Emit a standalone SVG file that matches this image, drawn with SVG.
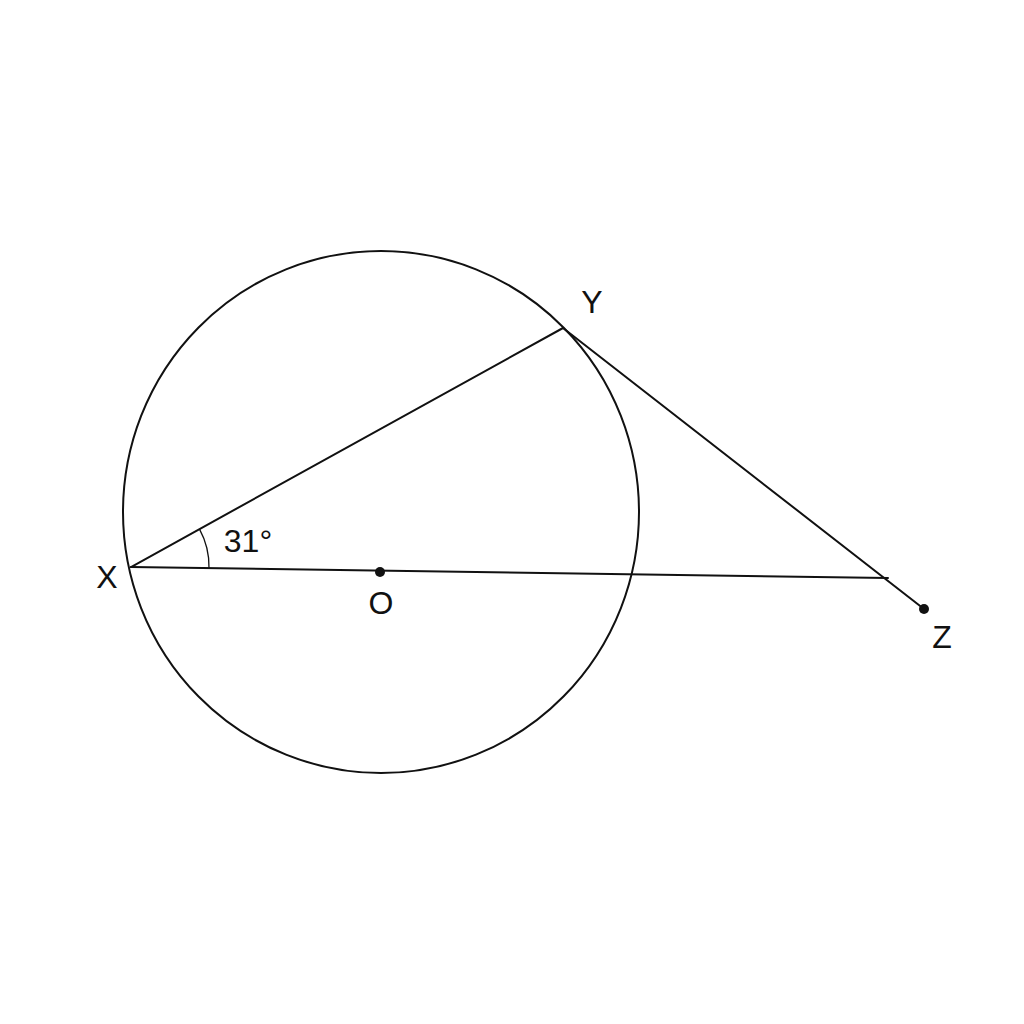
<svg xmlns="http://www.w3.org/2000/svg" width="1024" height="1024" viewBox="0 0 1024 1024">
<style>
.ln{fill:none;stroke:#111;stroke-width:2;stroke-linecap:round;stroke-linejoin:round}
.thin{fill:none;stroke:#111;stroke-width:1.3}
.lbl{font-family:"Liberation Sans",Arial,sans-serif;font-size:32px;fill:#111;text-anchor:middle}
.dot{fill:#111}
</style>
<rect width="1024" height="1024" fill="#fff"/>
<g id="circle"><ellipse class="ln" cx="381" cy="512" rx="258" ry="261"/></g>
<g id="connectors">
<line class="ln" x1="131" y1="567" x2="563" y2="328"/>
<line class="ln" x1="131" y1="567" x2="888" y2="578"/>
<line class="ln" x1="563" y1="328" x2="924" y2="609"/>
<path class="thin" d="M199.5,529.1 A78,78 0 0 1 209,568.1"/>
</g>
<g id="X"><text class="lbl" x="107" y="588">X</text></g>
<g id="Y"><text class="lbl" x="592" y="313">Y</text></g>
<g id="O"><circle class="dot" cx="380" cy="572" r="5"/><text class="lbl" x="381" y="614">O</text></g>
<g id="Z"><circle class="dot" cx="924" cy="609" r="5"/><text class="lbl" x="942" y="648">Z</text></g>
<g id="angle"><text class="lbl" x="248" y="552">31°</text></g>
</svg>
